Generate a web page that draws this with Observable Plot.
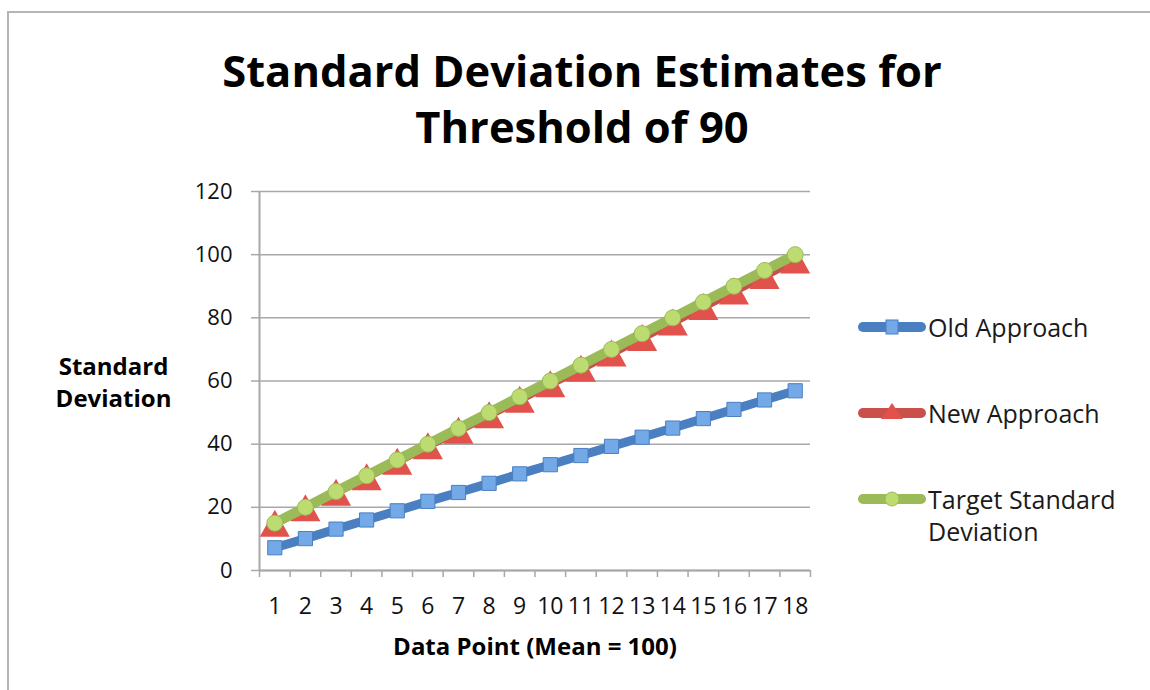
<!DOCTYPE html>
<html>
<head>
<meta charset="utf-8">
<script src="https://cdn.jsdelivr.net/npm/d3@7"></script>
<script src="https://cdn.jsdelivr.net/npm/@observablehq/plot@0.6"></script>
<style>
  html, body { margin: 0; padding: 0; background: #fff; overflow: hidden; }
  #wrap { position: relative; width: 1150px; height: 690px; font-family: "Open Sans", sans-serif; }
  #frame { position: absolute; left: 7px; top: 11px; width: 1300px; height: 900px;
           border-left: 2px solid #b5b5b5; border-top: 2px solid #b5b5b5; }
  #title { position: absolute; left: 0; top: 43px; width: 1164px; text-align: center;
           font-size: 43.5px; font-weight: bold; line-height: 56px; color: #000; }
  #chart { position: absolute; left: 0; top: 180px; }
  #legend { position: absolute; left: 858px; top: 0; font-size: 25px; color: #1a1a1a; }
  .item { position: absolute; left: 0; white-space: nowrap; }
  .item svg { position: absolute; left: 0; top: 0; overflow: visible; }
  .item span { position: absolute; left: 70px; line-height: 32px; }
</style>
</head>
<body>
<div id="wrap">
  <div id="frame"></div>
  <div id="title">Standard Deviation Estimates for<br>Threshold of 90</div>
  <div id="chart"></div>
  <div id="legend"></div>
</div>
<script>
const xTitle = "Data Point (Mean = 100)";
const yTitle = "Standard\nDeviation";
const dataPoints = [1, 2, 3, 4, 5, 6, 7, 8, 9, 10, 11, 12, 13, 14, 15, 16, 17, 18];
const oldApproach = [7.2, 10.1, 13.1, 16.0, 18.9, 21.9, 24.7, 27.6, 30.6, 33.5, 36.4, 39.3, 42.2, 45.1, 48.1, 51.0, 54.0, 56.9];
const newApproach = [15.0, 19.9, 24.8, 29.7, 34.6, 39.5, 44.4, 49.3, 54.2, 59.1, 64.0, 68.9, 73.8, 78.7, 83.6, 88.5, 93.4, 98.3];
const targetSD = [15, 20, 25, 30, 35, 40, 45, 50, 55, 60, 65, 70, 75, 80, 85, 90, 95, 100];
const seriesNames = ["Old Approach", "New Approach", "Target Standard\nDeviation"];
const yTicks = [0, 20, 40, 60, 80, 100, 120];

const lineColors = ["#4a7fc1", "#c9504b", "#9bbb59"];
const fillColors = ["#74a9e8", "#e0524b", "#bcdc72"];

// bounding-box centred triangle like Excel's marker
const tri = { draw(ctx, size) { const w = 30, h = 27; ctx.moveTo(0, -h / 2); ctx.lineTo(w / 2, h / 2); ctx.lineTo(-w / 2, h / 2); ctx.closePath(); } };
const symbols = ["square", tri, "circle"];
const rs = [8, 10, 8];
const widths = [9, 9, 10];

const series = [oldApproach, newApproach, targetSD];
const tables = series.map(vals => dataPoints.map((d, i) => ({ x: d, y: vals[i] })));

const font = "'Open Sans', sans-serif";
const marks = [
  Plot.gridY(yTicks, { stroke: "#a8a8a8", strokeOpacity: 1, strokeWidth: 1.5 }),
  Plot.axisY(yTicks, { tickSize: 8, tickPadding: 19, stroke: "#a8a8a8", strokeWidth: 1.5, fill: "#111", fontSize: 22, label: null }),
  Plot.axisX(d3.range(0.5, 19, 1), { tickSize: 7, stroke: "#a8a8a8", strokeWidth: 1.5, tickFormat: () => "", label: null }),
  Plot.axisX(dataPoints, { tickSize: 0, tickPadding: 27, fill: "#111", fontSize: 23, label: null }),
  Plot.ruleX([0.5], { stroke: "#a8a8a8", strokeWidth: 2 }),
  Plot.ruleY([0], { stroke: "#a8a8a8", strokeWidth: 2 }),
  Plot.text([xTitle], { frameAnchor: "bottom", dy: 84, fontWeight: "bold", fontSize: 24, fill: "#000" }),
  Plot.text([yTitle], { frameAnchor: "left", dx: -146, textAnchor: "middle", lineHeight: 1.34, fontWeight: "bold", fontSize: 24, fill: "#000" })
];
tables.forEach((t, k) => {
  marks.push(Plot.line(t, { x: "x", y: "y", stroke: lineColors[k], strokeWidth: widths[k], strokeLinejoin: "round" }));
  marks.push(Plot.dot(t, { x: "x", y: "y", symbol: () => symbols[k], r: rs[k], fill: fillColors[k], stroke: k === 1 ? "none" : lineColors[k], strokeWidth: 1 }));
});

const chart = Plot.plot({
  width: 1150, height: 510,
  marginLeft: 259, marginRight: 340, marginTop: 11, marginBottom: 120,
  style: { fontFamily: font, background: "transparent", overflow: "visible" },
  x: { domain: [0.5, 18.5], axis: null },
  y: { domain: [0, 120], axis: null },
  symbol: { type: "identity" },
  marks
});
document.getElementById("chart").appendChild(chart);

// legend
const legend = document.getElementById("legend");
const rowsY = [311, 397, 483];
seriesNames.forEach((name, k) => {
  const item = document.createElement("div");
  item.className = "item";
  item.style.top = rowsY[k] + "px";
  const sw = d3.create("svg").attr("width", 70).attr("height", 32);
  sw.append("line").attr("x1", 5).attr("x2", 63).attr("y1", 16).attr("y2", 16)
    .attr("stroke", lineColors[k]).attr("stroke-width", 10).attr("stroke-linecap", "round");
  const g = sw.append("g").attr("transform", "translate(34,16)");
  if (k === 0) g.append("rect").attr("x", -6).attr("y", -7).attr("width", 12).attr("height", 14).attr("fill", fillColors[0]).attr("stroke", lineColors[0]);
  if (k === 1) g.append("path").attr("d", "M0,-10L11,6L-11,6Z").attr("fill", fillColors[1]);
  if (k === 2) g.append("circle").attr("r", 7).attr("fill", fillColors[2]).attr("stroke", lineColors[2]);
  item.appendChild(sw.node());
  const span = document.createElement("span");
  span.innerHTML = name.replace("\n", "<br>");
  item.appendChild(span);
  legend.appendChild(item);
});
</script>
</body>
</html>
